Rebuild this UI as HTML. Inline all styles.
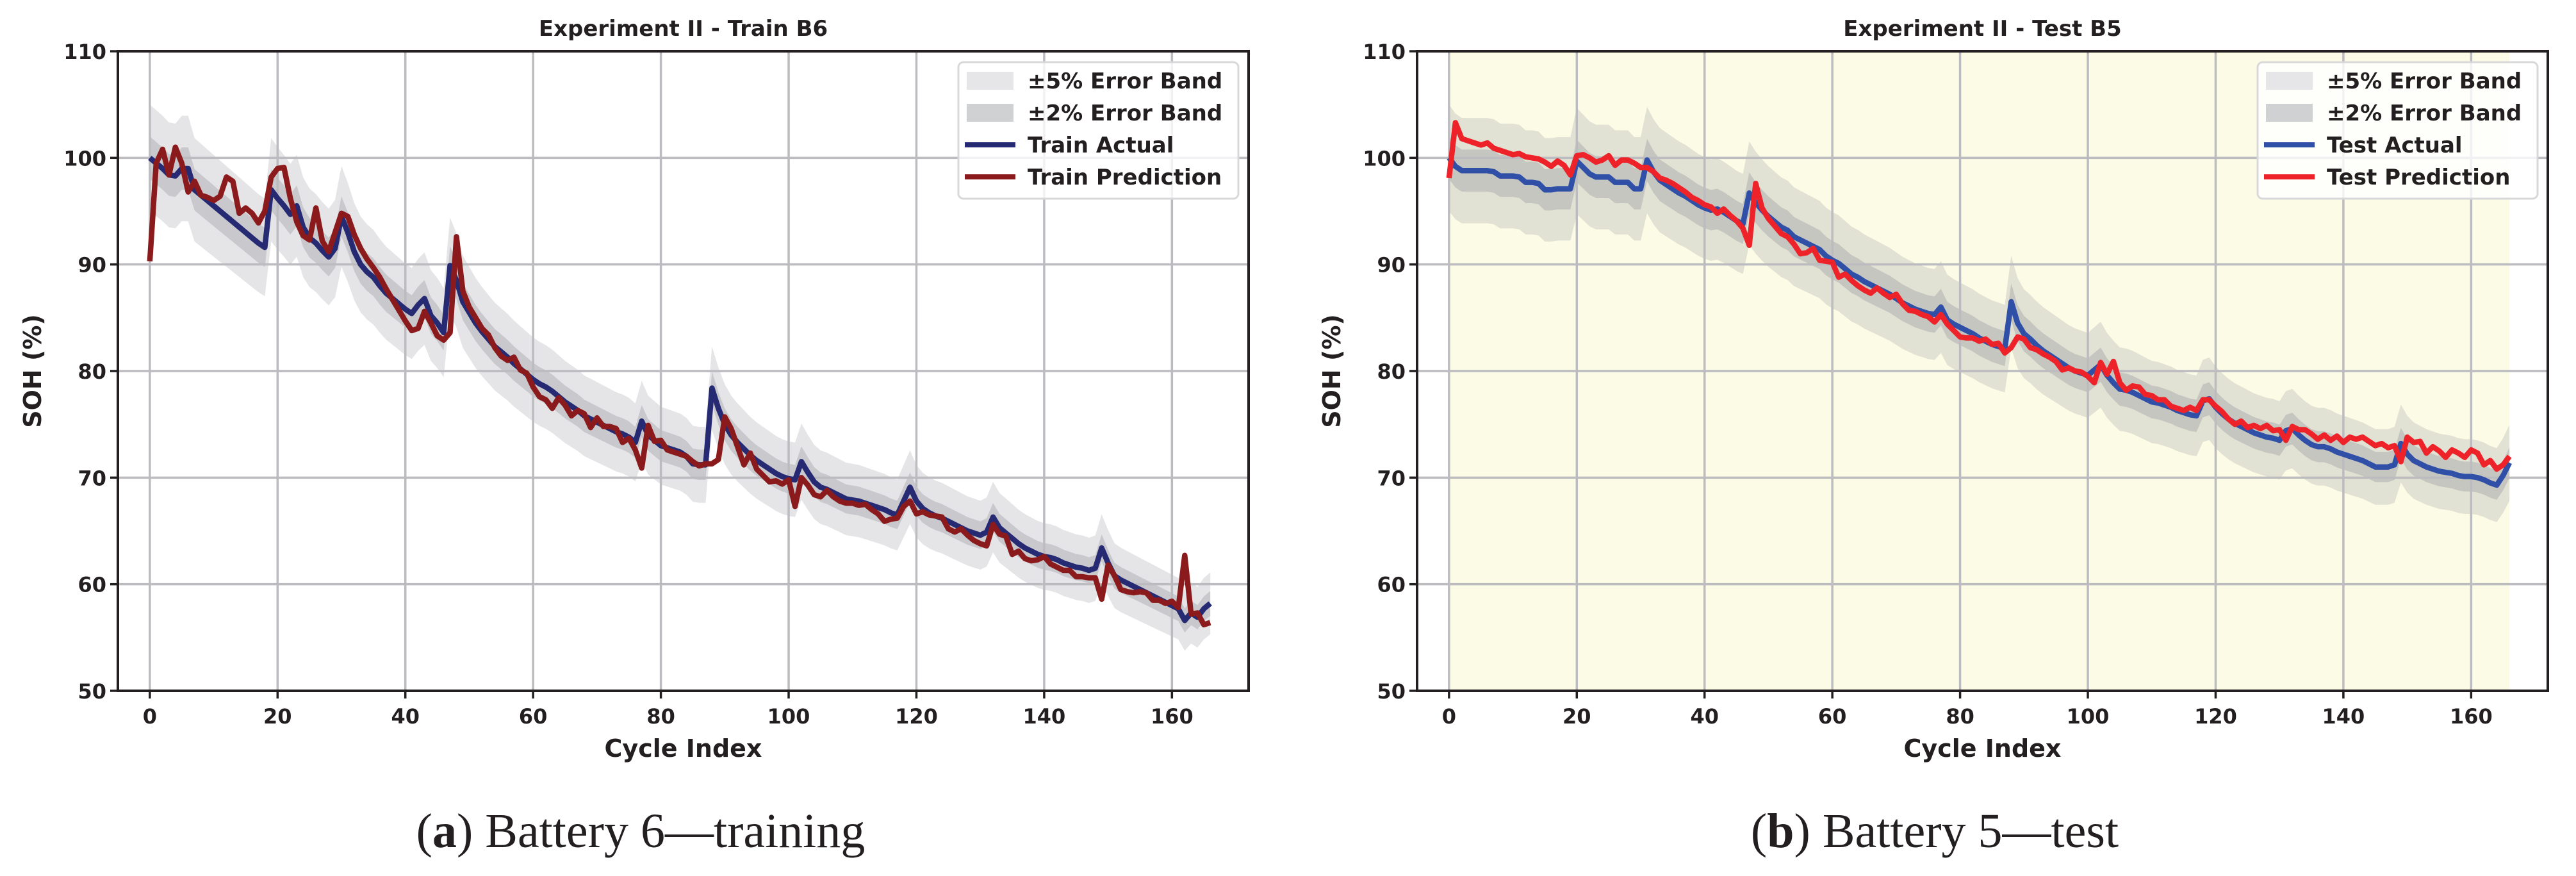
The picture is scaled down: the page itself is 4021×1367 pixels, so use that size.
<!DOCTYPE html>
<html><head><meta charset="utf-8">
<style>
html,body{margin:0;padding:0;background:#fff;}
svg{display:block;}
.tk{font-family:"DejaVu Sans","Liberation Sans",sans-serif;font-size:32px;fill:#231f20;font-weight:bold;}
.ttl{font-family:"DejaVu Sans","Liberation Sans",sans-serif;font-size:34px;font-weight:bold;fill:#231f20;}
.axl{font-family:"DejaVu Sans","Liberation Sans",sans-serif;font-size:38px;font-weight:bold;fill:#231f20;}
.lg{font-family:"DejaVu Sans","Liberation Sans",sans-serif;font-size:34px;font-weight:bold;fill:#231f20;}
.cap{font-family:"Liberation Serif",serif;font-size:76px;fill:#231f20;}
</style></head>
<body>
<svg id="fig" width="4021" height="1367" viewBox="0 0 4021 1367" xmlns="http://www.w3.org/2000/svg">
<rect width="4021" height="1367" fill="#fff"/>
<text class="cap" x="1000" y="1322" text-anchor="middle">(<tspan font-weight="bold">a</tspan>) Battery 6—training</text>
<text class="cap" x="3020" y="1322" text-anchor="middle">(<tspan font-weight="bold">b</tspan>) Battery 5—test</text>
</svg>
<script>
const cycles = Array.from({length:167},(_,i)=>i);
const xTicks = [0,20,40,60,80,100,120,140,160];
const yTicks = [50,60,70,80,90,100,110];
const trainActual = [100,99.5,99,98.4,98.3,99,99,97,96.5,96,95.5,95,94.5,94,93.5,93,92.5,92,91.6,97,96.2,95.5,94.7,95.5,93.5,92.5,92,91.3,90.7,91.5,94.5,93,91.2,90,89.3,88.8,88,87.3,86.8,86.3,85.8,85.4,86.2,86.8,85.2,84.5,83.6,89.9,88.5,86.5,85.5,84.5,83.7,83,82.3,81.8,81.3,80.7,80.2,79.7,79.2,78.8,78.5,78.1,77.6,77.1,76.7,76.3,75.8,75.5,75.2,74.9,74.6,74.3,74.1,73.8,73.3,75.3,74,73.5,73,72.8,72.6,72.4,72,71.3,71.2,71.2,78.4,76.5,75,74,73.3,72.7,72.1,71.6,71.2,70.8,70.4,70.1,69.9,69.8,71.5,70.5,69.6,69.1,68.9,68.6,68.3,68,67.9,67.8,67.6,67.4,67.2,67,66.7,66.5,67.8,69.1,67.8,67.1,66.7,66.4,66.2,65.9,65.6,65.3,65,64.8,64.6,64.9,66.3,65.3,64.8,64.3,63.8,63.4,63.1,62.8,62.6,62.5,62.3,62,61.8,61.6,61.5,61.3,61.5,63.4,62,60.8,60.4,60.1,59.8,59.5,59.2,58.9,58.6,58.3,58,57.7,56.6,57.3,56.9,57.7,58.2];
const trainPred = [90.3,99.5,100.8,98.4,101,99.5,96.8,97.8,96.5,96.3,96,96.4,98.2,97.8,94.8,95.3,94.8,93.9,95,98.2,99,99.1,96.2,94,92.7,92.3,95.3,92.2,91.2,93,94.8,94.5,92.8,91.5,90.5,89.7,88.8,87.7,86.7,85.7,84.7,83.8,84,85.6,84.5,83.3,82.9,83.6,92.6,87.5,86,85,84,83.4,82.2,81.4,81,81.3,80.1,79.8,78.5,77.6,77.3,76.5,77.5,76.8,75.8,76.3,76,74.7,75.6,74.8,74.8,74.6,73.3,73.7,72.6,70.9,74.9,73.4,73.5,72.6,72.4,72.2,72,71.5,71.1,71.3,71.3,71.7,75.7,74.6,72.9,71.2,72.3,70.8,70.2,69.6,69.7,69.4,69.8,67.3,70,69.3,68.4,68.2,68.8,68.2,67.8,67.6,67.6,67.4,67.5,67,66.6,65.9,66.1,66.2,67.3,67.8,66.6,66.8,66.5,66.4,66.3,65.2,64.9,65.2,64.6,64.1,63.8,63.6,65.6,64.7,64.5,62.8,63.1,62.4,62.2,62.3,62.6,61.9,61.6,61.3,61.3,60.7,60.7,60.6,60.6,58.6,61.8,60.8,59.5,59.3,59.2,59.3,59.2,58.5,58.5,58.2,58.4,57.8,62.7,57.2,57.3,56.2,56.4];
const testActual = [100,99.2,98.8,98.8,98.8,98.8,98.8,98.7,98.3,98.3,98.3,98.2,97.7,97.7,97.6,97,97,97.1,97.1,97.1,99.7,99.1,98.5,98.2,98.2,98.2,97.7,97.7,97.7,97.1,97.1,99.8,98.7,97.9,97.5,97.1,96.7,96.4,96,95.6,95.3,95.1,95.2,94.9,94.5,94.1,93.8,96.7,95.8,95.1,94.5,94,93.5,93.2,92.6,92.3,92,91.7,91.4,90.8,90.4,90.1,89.6,89.1,88.8,88.4,88.1,87.8,87.5,87.2,86.8,86.4,86.1,85.8,85.6,85.4,85.3,86,84.8,84.4,84.1,83.8,83.5,83.1,82.8,82.5,82.3,82.1,86.5,84.5,83.5,83,82.4,81.9,81.5,81.1,80.7,80.3,80,79.8,79.6,80.1,80.6,79.6,78.9,78.3,78.2,78,77.7,77.4,77.1,77,76.8,76.6,76.3,76.1,75.9,75.8,77.2,77.4,76.6,76,75.5,75.1,74.8,74.5,74.2,74,73.8,73.7,73.5,74.4,74.6,74,73.5,73.1,72.9,72.9,72.7,72.4,72.2,72,71.8,71.6,71.3,71,71,71,71.2,73.2,72.2,71.6,71.3,71,70.8,70.6,70.5,70.4,70.2,70.1,70.1,70,69.8,69.5,69.3,70.2,71.4];
const testPred = [98.1,103.3,101.8,101.6,101.4,101.2,101.4,100.9,100.7,100.5,100.3,100.4,100.1,100,99.9,99.6,99.2,99.7,99.3,98.4,100.2,100.3,100,99.6,99.8,100.2,99.3,99.8,99.8,99.5,99.1,99.1,98.7,98.1,97.9,97.6,97.2,96.8,96.3,96,95.6,95.4,94.8,95.2,94.6,94.1,93.4,91.8,97.6,95.3,94.3,93.6,92.9,92.6,91.9,91,91.1,91.5,90.4,90.3,90.2,88.8,89.1,88.5,88,87.6,87.3,87.8,87.3,86.9,87.2,86.3,85.7,85.6,85.3,85.1,84.6,85.3,84.4,83.8,83.2,83.1,83.1,82.8,83,82.5,82.6,81.7,82.2,83.2,83,82.2,82,81.6,81.3,80.9,80.1,80.3,80,79.9,79.5,78.9,80.8,79.7,80.9,78.9,78.2,78.6,78.5,77.8,77.7,77.3,77.3,76.7,76.5,76.3,76.6,76.3,77.3,77.3,76.7,76.2,75.5,75,75.3,74.7,74.9,74.6,74.9,74.4,74.5,73.5,74.8,74.5,74.5,74.1,73.6,74,73.5,73.9,73.3,73.8,73.6,73.8,73.4,73,73.2,72.8,73,71.5,73.8,73.3,73.4,72.3,72.9,72.5,71.9,72.6,72.3,71.9,72.6,72.3,71.2,71.6,70.8,71.2,72];

const NS='http://www.w3.org/2000/svg';
const svg=document.getElementById('fig');
function mk(tag,attrs,parent){const e=document.createElementNS(NS,tag);for(const k in attrs)e.setAttribute(k,attrs[k]);(parent||svg).appendChild(e);return e;}

function drawPanel(cfg){
  const L=cfg.left,R=cfg.left+1765,T=80,B=1078;
  const xmin=-5,xmax=172,ymin=50,ymax=110;
  const sx=v=>L+(v-xmin)/(xmax-xmin)*(R-L);
  const sy=v=>B-(v-ymin)/(ymax-ymin)*(B-T);
  const g=mk('g',{});
  
  
  if(cfg.shade){
    const r=mk('rect',{x:sx(cycles[0]),y:T,width:sx(cycles[cycles.length-1])-sx(cycles[0]),height:B-T,fill:'#fbfbe6'},g);
    
    
  }
  function band(p,fill,name){
    let up=cycles.map((c,i)=>sx(c)+','+sy(cfg.actual[i]*(1+p))).join(' ');
    let lo=cycles.slice().reverse().map(c=>sx(c)+','+sy(cfg.actual[c]*(1-p))).join(' ');
    const e=mk('polygon',{points:up+' '+lo,fill:fill},g);
    
    
  }
  band(0.05,'rgba(150,150,160,0.25)','error-band-5pct');
  band(0.02,'rgba(140,140,148,0.32)','error-band-2pct');
  xTicks.forEach(t=>{const l=mk('line',{x1:sx(t),x2:sx(t),y1:T,y2:B,stroke:'#bbbbc0','stroke-width':3.5},g);
    
    });
  yTicks.forEach(t=>{const l=mk('line',{x1:L,x2:R,y1:sy(t),y2:sy(t),stroke:'#bbbbc0','stroke-width':3.5},g);
    
    });
  function line(data,color,name){
    const e=mk('polyline',{points:cycles.map((c,i)=>sx(c)+','+sy(data[i])).join(' '),fill:'none',stroke:color,'stroke-width':8.5,'stroke-linejoin':'round'},g);
    
    
  }
  line(cfg.actual,cfg.c1,'actual-line');
  line(cfg.pred,cfg.c2,'prediction-line');
  const fr=mk('rect',{x:L,y:T,width:R-L,height:B-T,fill:'none',stroke:'#231f20','stroke-width':4},g);
  
  
  xTicks.forEach(t=>{mk('line',{x1:sx(t),x2:sx(t),y1:B,y2:B+12,stroke:'#231f20','stroke-width':3.5},g);
    const tx=mk('text',{x:sx(t),y:1129,'text-anchor':'middle',class:'tk'},g);tx.textContent=t;
    
    });
  yTicks.forEach(t=>{mk('line',{x1:L-12,x2:L,y1:sy(t),y2:sy(t),stroke:'#231f20','stroke-width':3.5},g);
    const tx=mk('text',{x:L-18,y:sy(t)+12,'text-anchor':'end',class:'tk'},g);tx.textContent=t;
    
    });
  const cx=(L+R)/2;
  const ti=mk('text',{x:cx,y:56,'text-anchor':'middle',class:'ttl'},g);ti.textContent=cfg.title;
  
  
  const xl=mk('text',{x:cx,y:1181,'text-anchor':'middle',class:'axl'},g);xl.textContent='Cycle Index';
  
  
  const yl=mk('text',{x:0,y:0,'text-anchor':'middle',class:'axl',transform:`translate(${L-120},${(T+B)/2}) rotate(-90)`},g);yl.textContent='SOH (%)';
  
  
  const lx=R-453,ly=97;
  const lb=mk('rect',{x:lx,y:ly,width:437,height:213,rx:8,fill:'rgba(255,255,255,0.8)',stroke:'#d8d8da','stroke-width':3},g);
  
  
  const items=[['±5% Error Band','p','#e6e6e8'],['±2% Error Band','p','#d0d1d3'],[cfg.l1,'l',cfg.c1],[cfg.l2,'l',cfg.c2]];
  items.forEach((it,i)=>{
    const yy=ly+29+i*50;
    if(it[1]==='p'){const p=mk('rect',{x:lx+13,y:yy-14,width:73,height:28,fill:it[2]},g);
      
      }
    else{const p=mk('line',{x1:lx+10,x2:lx+89,y1:yy,y2:yy,stroke:it[2],'stroke-width':8},g);
      
      }
    const t=mk('text',{x:lx+108,y:yy+12,class:'lg'},g);t.textContent=it[0];
    
    
  });
}
drawPanel({left:184,name:'train-chart',title:'Experiment II - Train B6',actual:trainActual,pred:trainPred,c1:'#262a73',c2:'#8b1a1c',l1:'Train Actual',l2:'Train Prediction',shade:false});
drawPanel({left:2212,name:'test-chart',title:'Experiment II - Test B5',actual:testActual,pred:testPred,c1:'#3050a8',c2:'#ee2229',l1:'Test Actual',l2:'Test Prediction',shade:true});
</script>
</body></html>
